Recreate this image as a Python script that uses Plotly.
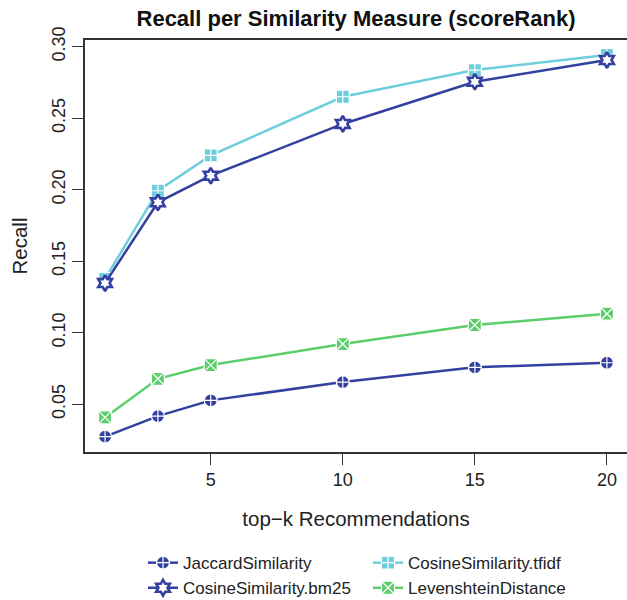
import plotly.graph_objects as go

k = [1, 3, 5, 10, 15, 20]
jaccard = [0.0273, 0.0417, 0.0527, 0.0655, 0.0758, 0.0790]
bm25 = [0.1347, 0.1912, 0.2098, 0.2460, 0.2755, 0.2907]
tfidf = [0.1376, 0.1993, 0.2240, 0.2650, 0.2837, 0.2942]
leven = [0.0408, 0.0678, 0.0774, 0.0921, 0.1054, 0.1133]

names = ["JaccardSimilarity", "CosineSimilarity.tfidf", "CosineSimilarity.bm25", "LevenshteinDistance"]
series = [jaccard, tfidf, bm25, leven]
colors = ["#3340a0", "#6ecfdc", "#3340a0", "#5ccd6b"]
symbols = ["circle-cross", "square-cross", "hexagram", "square-x"]

x_ticks = [5, 10, 15, 20]
y_ticks = [0.05, 0.10, 0.15, 0.20, 0.25, 0.30]

FONT = "Liberation Sans, Arial, Helvetica, sans-serif"

fig = go.Figure()
for name, ys, c, s in zip(names, series, colors, symbols):
    if s == "hexagram":
        mk = dict(symbol=s, size=12, color="white", line=dict(color=c, width=2.6))
    else:
        mk = dict(symbol=s, size=13, color=c, line=dict(color="white", width=1.2))
    fig.add_trace(go.Scatter(
        x=k, y=ys, name=name, mode="lines+markers",
        line=dict(color=c, width=2.5),
        marker=mk,
    ))

fig.update_layout(
    width=627, height=600,
    margin=dict(l=85, r=0, t=40, b=148, autoexpand=False),
    plot_bgcolor="white", paper_bgcolor="white",
    font=dict(family=FONT, color="#222", size=17),
    title=dict(text="<b>Recall per Similarity Measure (scoreRank)</b>",
               x=(85 + 627) / 2 / 627, xanchor="center", y=0.97, yanchor="middle",
               font=dict(size=22, color="#111")),
    showlegend=True,
    legend=dict(orientation="h", x=(143 - 85) / 542, xanchor="left", y=-0.226, yanchor="top",
                entrywidth=180, entrywidthmode="pixels",
                font=dict(size=17, color="#222"), tracegroupgap=0,
                itemwidth=30),
)
fig.update_xaxes(
    range=[0.24, 20.76], tickvals=x_ticks, ticktext=[str(v) for v in x_ticks],
    showgrid=False, zeroline=False, showline=True, linecolor="#333", linewidth=1.5,
    mirror=True, ticks="outside", ticklen=11, tickcolor="#333", tickwidth=1.3,
    tickfont=dict(size=18), title=dict(text="top−k Recommendations", font=dict(size=20.5), standoff=22),
)
fig.update_yaxes(
    range=[0.0166, 0.3047], tickvals=y_ticks, ticktext=["%.2f" % v for v in y_ticks],
    tickangle=-90,
    showgrid=False, zeroline=False, showline=True, linecolor="#333", linewidth=1.5,
    mirror=True, ticks="outside", ticklen=11, tickcolor="#333", tickwidth=1.3,
    tickfont=dict(size=18), title=dict(text="Recall", font=dict(size=20.5), standoff=16),
)

fig.write_html("out.html")
